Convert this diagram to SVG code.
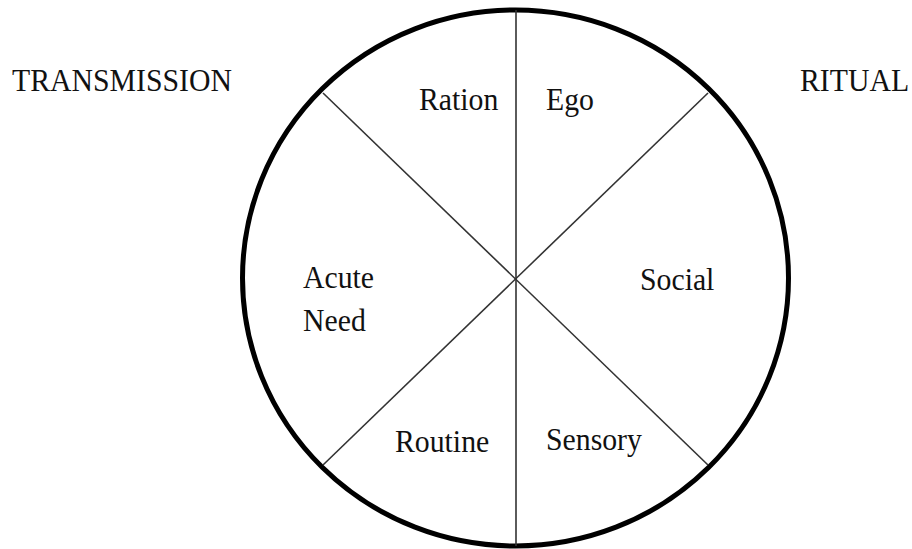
<svg xmlns="http://www.w3.org/2000/svg" width="912" height="549" viewBox="0 0 912 549">
  <style>
    .lbl { font-family: "Liberation Serif", "Times New Roman", serif; font-size: 32px; fill: #111; }
    .divider { stroke: #333; stroke-width: 1.6; fill: none; }
    .rim { stroke: #000; stroke-width: 5; fill: #fff; }
  </style>
  <rect width="912" height="549" fill="#fff"/>
  <g id="wheel">
    <ellipse class="rim" cx="515.5" cy="278" rx="273" ry="268"/>
  </g>
  <g id="connectors">
    <line class="divider" x1="516" y1="10" x2="516" y2="546"/>
    <line class="divider" x1="323" y1="93" x2="708" y2="465"/>
    <line class="divider" x1="708" y1="93" x2="323" y2="465"/>
  </g>
  <!-- labels are slightly condensed horizontally -->
  <g id="transmission"><text class="lbl" transform="matrix(0.93 0 0 1 12 91)">TRANSMISSION</text></g>
  <g id="ritual"><text class="lbl" transform="matrix(0.93 0 0 1 800 91)">RITUAL</text></g>
  <g id="ration"><text class="lbl" transform="matrix(0.93 0 0 1 419 110)">Ration</text></g>
  <g id="ego"><text class="lbl" transform="matrix(0.93 0 0 1 546 110)">Ego</text></g>
  <g id="acute-need">
    <text class="lbl" transform="matrix(0.93 0 0 1 303 288)">Acute</text>
    <text class="lbl" transform="matrix(0.93 0 0 1 303 331)">Need</text>
  </g>
  <g id="social"><text class="lbl" transform="matrix(0.93 0 0 1 640 290)">Social</text></g>
  <g id="routine"><text class="lbl" transform="matrix(0.93 0 0 1 395 452)">Routine</text></g>
  <g id="sensory"><text class="lbl" transform="matrix(0.93 0 0 1 546 450)">Sensory</text></g>
</svg>
